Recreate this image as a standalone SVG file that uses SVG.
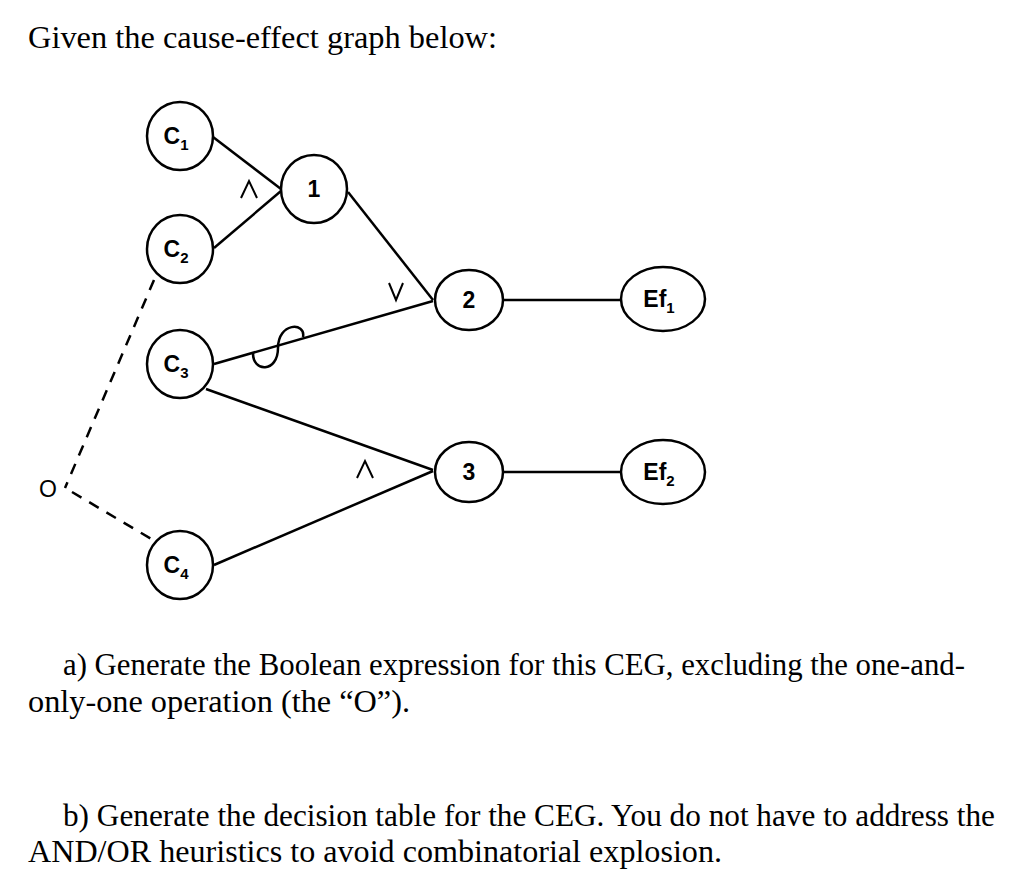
<svg xmlns="http://www.w3.org/2000/svg" width="1024" height="887" viewBox="0 0 1024 887">
<style>
.n{fill:#fff;stroke:#000;stroke-width:2.5}
.e{stroke:#000;stroke-width:2.5;fill:none}
.g{stroke:#000;stroke-width:2;fill:none}
.d{stroke:#000;stroke-width:2.5;fill:none;stroke-dasharray:11 9}
.l{font-family:"Liberation Sans",Arial,sans-serif;font-weight:bold;font-size:23px;text-anchor:middle}
.s{font-size:15px}
.o{font-family:"Liberation Sans",Arial,sans-serif;font-size:22px;text-anchor:middle}
.t{font-family:"Liberation Serif","Times New Roman",serif;font-size:31px}
</style>
<rect width="1024" height="887" fill="#fff"/>
<text class="t" x="28" y="48" textLength="469" lengthAdjust="spacingAndGlyphs">Given the cause-effect graph below:</text>
<g id="connectors">
<line class="e" x1="213" y1="137" x2="281" y2="189"/>
<line class="e" x1="214" y1="248" x2="281" y2="191"/>
<line class="e" x1="348" y1="192" x2="433" y2="300"/>
<line class="e" x1="214" y1="364" x2="433" y2="301"/>
<line class="e" x1="206" y1="389" x2="433" y2="470"/>
<line class="e" x1="214" y1="565" x2="433" y2="471"/>
<line class="e" x1="503" y1="300" x2="621" y2="300"/>
<line class="e" x1="503" y1="472" x2="621" y2="472"/>
<path class="e" d="M253,352 C252,373 278,373 278,348 C278,322 306,322 303,337"/>
<line class="d" x1="154" y1="280" x2="65" y2="488"/>
<line class="d" x1="72" y1="492" x2="153" y2="540"/>
</g>
<g id="C1"><ellipse class="n" cx="180" cy="136" rx="33" ry="34"/><text class="l" x="176" y="144">C<tspan class="s" dy="6">1</tspan></text></g>
<g id="C2"><ellipse class="n" cx="180" cy="249" rx="33" ry="34"/><text class="l" x="176" y="257">C<tspan class="s" dy="6">2</tspan></text></g>
<g id="C3"><ellipse class="n" cx="180" cy="364" rx="33" ry="34"/><text class="l" x="176" y="372">C<tspan class="s" dy="6">3</tspan></text></g>
<g id="C4"><ellipse class="n" cx="180" cy="565" rx="33" ry="34"/><text class="l" x="176" y="573">C<tspan class="s" dy="6">4</tspan></text></g>
<g id="N1"><ellipse class="n" cx="314" cy="189" rx="33" ry="34"/><text class="l" x="314" y="197">1</text></g>
<g id="N2"><ellipse class="n" cx="469" cy="300" rx="34" ry="30"/><text class="l" x="469" y="308">2</text></g>
<g id="N3"><ellipse class="n" cx="469" cy="472" rx="34" ry="30"/><text class="l" x="469" y="480">3</text></g>
<g id="Ef1"><ellipse class="n" cx="663" cy="299" rx="42" ry="32"/><text class="l" x="659" y="307">Ef<tspan class="s" dy="6">1</tspan></text></g>
<g id="Ef2"><ellipse class="n" cx="663" cy="472" rx="42" ry="32"/><text class="l" x="659" y="480">Ef<tspan class="s" dy="6">2</tspan></text></g>
<g id="labels">
<polyline class="g" points="241,198 249,181 257,198"/>
<polyline class="g" points="389,283 396,300 403,283"/>
<polyline class="g" points="357,478 365,461 373,478"/>
<text class="o" x="48" y="497" style="font-size:23px">O</text>
</g>
<text class="t" x="63" y="675" textLength="902" lengthAdjust="spacingAndGlyphs">a) Generate the Boolean expression for this CEG, excluding the one-and-</text>
<text class="t" x="28" y="712" textLength="382" lengthAdjust="spacingAndGlyphs">only-one operation (the “O”).</text>
<text class="t" x="63" y="826" textLength="932" lengthAdjust="spacingAndGlyphs">b) Generate the decision table for the CEG. You do not have to address the</text>
<text class="t" x="28" y="862" textLength="694" lengthAdjust="spacingAndGlyphs">AND/OR heuristics to avoid combinatorial explosion.</text>
</svg>
